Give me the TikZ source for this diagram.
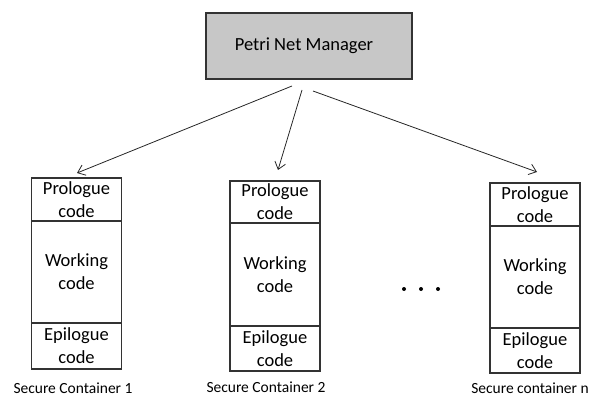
\documentclass[tikz,border=0pt]{standalone}
\usepackage{fontspec}
\setmainfont{Carlito}
\usetikzlibrary{arrows.meta}
\begin{document}
\begin{tikzpicture}[x=1pt,y=-1pt,
  sec/.style={draw=black!80, line width=1.2pt, minimum width=90pt, inner sep=0pt, align=center,
    font=\fontsize{18.5}{23}\selectfont},
  mgr/.style={draw=black!80, line width=1.2pt, fill=black!22, minimum width=206pt, minimum height=66pt,
    inner sep=0pt, font=\fontsize{18.5}{23}\selectfont},
  lab/.style={inner sep=0pt, font=\fontsize{15.5}{18}\selectfont},
  arr/.style={draw=black!85, line width=0.8pt, -{Straight Barb[length=7pt,width=11pt]}},
  dotn/.style={circle, fill=black, inner sep=0pt, minimum size=4pt}]
\useasboundingbox (0,0) rectangle (594,398);
\node[mgr] (m) at (309,46) {Petri Net Manager\hspace*{10pt}};
% container 1
\node[sec, minimum height=43pt] (p1) at (76.5,199.5) {Prologue\\code};
\node[sec, minimum height=102pt] (w1) at (76.5,272) {Working\\code};
\node[sec, minimum height=46pt] (e1) at (76.5,346) {Epilogue\\code};
\node[lab] (l1) at (73,388) {Secure Container 1};
% container 2
\node[sec, minimum height=42pt] (p2) at (275,202) {Prologue\\code};
\node[sec, minimum height=103pt] (w2) at (275,274.5) {Working\\code};
\node[sec, minimum height=45pt] (e2) at (275,348.5) {Epilogue\\code};
\node[lab] (l2) at (266,387) {Secure Container 2};
% container n
\node[sec, minimum height=43pt] (p3) at (535,204.5) {Prologue\\code};
\node[sec, minimum height=102pt] (w3) at (535,277) {Working\\code};
\node[sec, minimum height=45pt] (e3) at (535,350.5) {Epilogue\\code};
\node[lab] (l3) at (530,388) {Secure container n};
% dots
\node[dotn] (d1) at (404,289) {};
\node[dotn] (d2) at (421,289) {};
\node[dotn] (d3) at (438,289) {};
% arrows
\coordinate (s1) at (292,86);
\coordinate (s2) at (302,90);
\coordinate (s3) at (313,91);
\coordinate (t1) at (77,173);
\coordinate (t2) at (278,170);
\coordinate (t3) at (537,172);
\draw[arr] (s1) -- (t1);
\draw[arr] (s2) -- (t2);
\draw[arr] (s3) -- (t3);
\end{tikzpicture}
\end{document}
